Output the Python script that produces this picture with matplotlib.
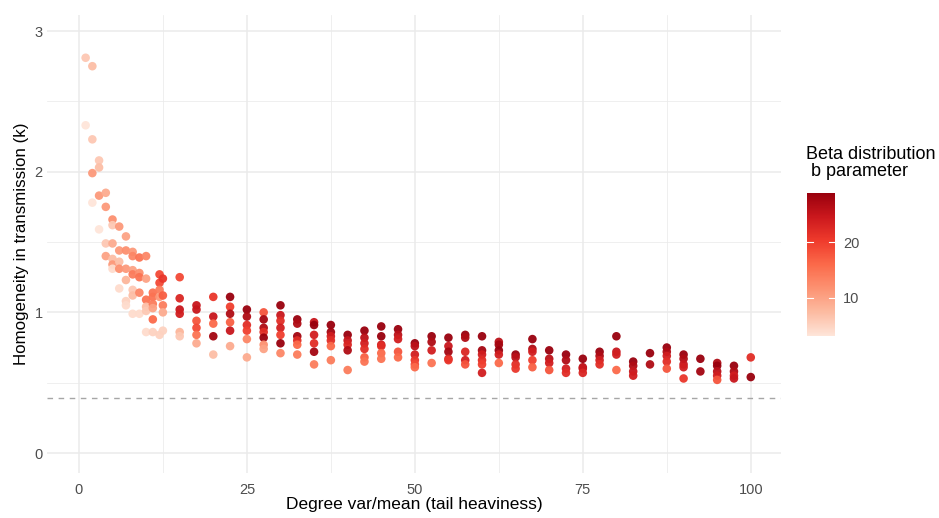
import matplotlib
matplotlib.use("Agg")
import matplotlib.pyplot as plt
from matplotlib.colors import LinearSegmentedColormap, Normalize
from matplotlib.cm import ScalarMappable

plt.rcParams['font.family'] = ['Liberation Sans', 'DejaVu Sans']

# datos: razon var/media, k estimado, parametro b
grado = [1, 1,
         2, 2, 2, 2,
         3, 3, 3, 3,
         4, 4, 4, 4,
         5, 5, 5, 5, 5, 5,
         6, 6, 6, 6, 6,
         7, 7, 7, 7, 7, 7,
         8, 8, 8, 8, 8, 8, 8,
         9, 9, 9, 9, 9,
         10, 10, 10, 10, 10, 10,
         11, 11, 11, 11, 11, 11,
         12, 12, 12, 12, 12,
         12.5, 12.5, 12.5, 12.5, 12.5,
         15, 15, 15, 15, 15, 15,
         17.5, 17.5, 17.5, 17.5, 17.5, 17.5,
         20, 20, 20, 20, 20,
         22.5, 22.5, 22.5, 22.5, 22.5, 22.5,
         25, 25, 25, 25, 25, 25,
         27.5, 27.5, 27.5, 27.5, 27.5, 27.5, 27.5,
         30, 30, 30, 30, 30, 30, 30,
         32.5, 32.5, 32.5, 32.5, 32.5, 32.5,
         35, 35, 35, 35, 35, 35,
         37.5, 37.5, 37.5, 37.5, 37.5, 37.5,
         40, 40, 40, 40, 40,
         42.5, 42.5, 42.5, 42.5, 42.5, 42.5,
         45, 45, 45, 45, 45, 45,
         47.5, 47.5, 47.5, 47.5, 47.5,
         50, 50, 50, 50, 50, 50,
         52.5, 52.5, 52.5, 52.5,
         55, 55, 55, 55, 55,
         57.5, 57.5, 57.5, 57.5, 57.5,
         60, 60, 60, 60, 60, 60,
         62.5, 62.5, 62.5, 62.5, 62.5,
         65, 65, 65, 65,
         67.5, 67.5, 67.5, 67.5, 67.5,
         70, 70, 70, 70,
         72.5, 72.5, 72.5, 72.5,
         75, 75, 75, 75,
         77.5, 77.5, 77.5, 77.5,
         80, 80, 80, 80,
         82.5, 82.5, 82.5, 82.5,
         85, 85,
         87.5, 87.5, 87.5, 87.5, 87.5,
         90, 90, 90, 90, 90,
         92.5, 92.5,
         95, 95, 95, 95, 95,
         97.5, 97.5, 97.5, 97.5,
         100, 100]

k_est = [2.81, 2.33,
         2.75, 2.23, 1.99, 1.78,
         2.08, 2.03, 1.83, 1.59,
         1.85, 1.75, 1.49, 1.40,
         1.66, 1.62, 1.49, 1.38, 1.34, 1.31,
         1.61, 1.44, 1.36, 1.31, 1.17,
         1.54, 1.44, 1.31, 1.23, 1.08, 1.05,
         1.43, 1.40, 1.30, 1.27, 1.16, 1.12, 0.99,
         1.39, 1.28, 1.25, 1.14, 0.99,
         1.40, 1.24, 1.09, 1.04, 1.01, 0.86,
         1.14, 1.11, 1.06, 1.03, 0.95, 0.86,
         1.27, 1.21, 1.16, 1.11, 0.84,
         1.24, 1.12, 1.05, 1.00, 0.87,
         1.25, 1.10, 1.02, 0.99, 0.86, 0.83,
         1.05, 1.02, 0.94, 0.89, 0.84, 0.78,
         1.11, 0.97, 0.92, 0.83, 0.70,
         1.11, 1.04, 0.99, 0.93, 0.87, 0.76,
         1.02, 0.97, 0.91, 0.87, 0.81, 0.68,
         1.00, 0.95, 0.89, 0.86, 0.82, 0.77, 0.74,
         1.05, 0.98, 0.94, 0.89, 0.84, 0.78, 0.71,
         0.95, 0.92, 0.83, 0.80, 0.77, 0.70,
         0.93, 0.91, 0.84, 0.78, 0.72, 0.63,
         0.91, 0.86, 0.83, 0.80, 0.76, 0.66,
         0.84, 0.80, 0.77, 0.73, 0.59,
         0.87, 0.82, 0.78, 0.74, 0.68, 0.65,
         0.90, 0.83, 0.77, 0.76, 0.71, 0.67,
         0.88, 0.84, 0.81, 0.72, 0.68,
         0.78, 0.76, 0.70, 0.66, 0.63, 0.61,
         0.83, 0.79, 0.73, 0.64,
         0.82, 0.76, 0.72, 0.67, 0.66,
         0.84, 0.82, 0.72, 0.66, 0.63,
         0.83, 0.73, 0.70, 0.66, 0.63, 0.57,
         0.79, 0.77, 0.73, 0.70, 0.64,
         0.70, 0.68, 0.63, 0.60,
         0.81, 0.74, 0.72, 0.66, 0.61,
         0.73, 0.67, 0.64, 0.59,
         0.70, 0.66, 0.60, 0.57,
         0.67, 0.61, 0.60, 0.57,
         0.72, 0.69, 0.66, 0.63,
         0.83, 0.72, 0.70, 0.59,
         0.65, 0.62, 0.58, 0.55,
         0.71, 0.63,
         0.75, 0.72, 0.69, 0.65, 0.60,
         0.70, 0.67, 0.63, 0.61, 0.53,
         0.67, 0.58,
         0.64, 0.62, 0.58, 0.55, 0.52,
         0.62, 0.58, 0.55, 0.53,
         0.68, 0.54]

beta_b = [6, 3,
          7, 6, 11, 3,
          6, 7, 11, 3,
          9, 11, 6, 10,
          12, 6, 9, 7, 11, 4,
          11, 11, 7, 12, 4,
          10, 12, 11, 8, 5, 4,
          11, 13, 10, 14, 6, 7, 4,
          15, 12, 15, 13, 4,
          13, 10, 15, 7, 6, 4,
          15, 15, 14, 10, 16, 5,
          19, 19, 14, 11, 5,
          21, 17, 14, 9, 5,
          19, 23, 25, 24, 8, 6,
          25, 25, 18, 19, 15, 9,
          21, 25, 16, 28, 7,
          29, 20, 27, 17, 25, 9,
          29, 27, 22, 20, 13, 9,
          18, 28, 27, 22, 29, 12, 10,
          29, 25, 22, 24, 20, 29, 13,
          29, 27, 28, 22, 16, 14,
          25, 29, 24, 22, 28, 14,
          29, 28, 24, 22, 16, 14,
          29, 25, 23, 27, 14,
          29, 26, 24, 22, 17, 15,
          29, 29, 24, 22, 16, 15,
          29, 26, 24, 18, 16,
          29, 26, 24, 21, 19, 16,
          29, 27, 24, 15,
          29, 25, 28, 23, 21,
          29, 27, 23, 24, 18,
          29, 28, 24, 22, 20, 24,
          26, 28, 29, 24, 16,
          29, 26, 22, 21,
          29, 27, 24, 20, 17,
          29, 26, 24, 18,
          29, 27, 24, 22,
          29, 26, 25, 23,
          29, 27, 24, 22,
          29, 25, 24, 16,
          29, 27, 25, 24,
          29, 27,
          29, 27, 24, 22, 18,
          29, 27, 25, 24, 21,
          29, 28,
          27, 29, 26, 24, 18,
          29, 27, 24, 25,
          22, 29]

k_referencia = 0.39

x_ticks = [0, 25, 50, 75, 100]
y_ticks = [0, 1, 2, 3]
b_ticks = [10, 20]

# paleta Reds de brewer (7 clases)
reds = ['#FEE5D9', '#FCBBA1', '#FC9272', '#FB6A4A', '#EF3B2C', '#CB181D', '#99000D']
cmap = LinearSegmentedColormap.from_list('reds7', reds)
norm = Normalize(vmin=min(beta_b), vmax=max(beta_b))

W, H = 939, 518
fig = plt.figure(figsize=(W / 100, H / 100), dpi=100)
ax = fig.add_axes([47 / W, 1 - 473 / H, (781 - 47) / W, (473 - 15) / H])

grid_col = '#EBEBEB'
for xv in x_ticks:
    ax.axvline(xv, color=grid_col, lw=1.1, zorder=0)
for xv in [12.5, 37.5, 62.5, 87.5]:
    ax.axvline(xv, color=grid_col, lw=0.55, zorder=0)
for yv in y_ticks:
    ax.axhline(yv, color=grid_col, lw=1.1, zorder=0)
for yv in [0.5, 1.5, 2.5]:
    ax.axhline(yv, color=grid_col, lw=0.55, zorder=0)

ax.axhline(k_referencia, color='#A6A6A6', lw=1.0, ls=(0, (4, 4)), zorder=1)

ax.scatter(grado, k_est, c=beta_b, cmap=cmap, norm=norm, s=38, alpha=0.95,
           linewidths=0, zorder=2)

ax.set_xlim(-4.75, 104.5)
ax.set_ylim(-0.142, 3.114)
ax.set_xticks(x_ticks)
ax.set_yticks(y_ticks)
ax.tick_params(length=0, labelsize=10.5, labelcolor='#4D4D4D')
ax.tick_params(axis='x', pad=7)
ax.tick_params(axis='y', pad=3)
for s in ax.spines.values():
    s.set_visible(False)

ax.set_xlabel('Degree var/mean (tail heaviness)', fontsize=12.5, labelpad=0.5)
ax.set_ylabel('Homogeneity in transmission (k)', fontsize=12.2, labelpad=4)

# barra de color
cax = fig.add_axes([807 / W, 1 - 336 / H, 28 / W, (336 - 193) / H])
sm = ScalarMappable(norm=norm, cmap=cmap)
cb = fig.colorbar(sm, cax=cax, ticks=b_ticks)
cb.outline.set_visible(False)
cax.tick_params(length=0, labelsize=10.5, labelcolor='#4D4D4D', pad=6)
for bt in b_ticks:
    cax.plot([0, 0.2], [bt, bt], color='white', lw=0.8, transform=cax.get_yaxis_transform())
    cax.plot([0.8, 1], [bt, bt], color='white', lw=0.8, transform=cax.get_yaxis_transform())
fig.text(806 / W, 1 - 146 / H, 'Beta distribution\n b parameter', fontsize=13,
         ha='left', va='top', linespacing=1.0)

fig.savefig('out.png', dpi=100)
